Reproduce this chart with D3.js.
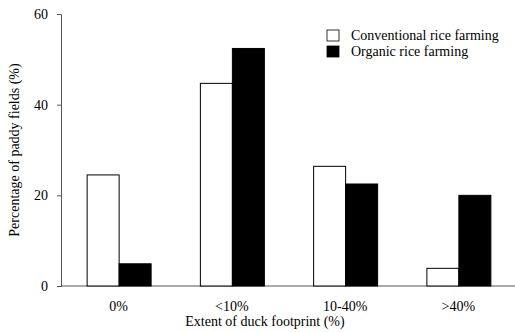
<!DOCTYPE html>
<html><head><meta charset="utf-8">
<script src="https://cdn.jsdelivr.net/npm/d3@7"></script>
<style>body{margin:0;background:#fff}svg{display:block}text{font-family:"Liberation Serif","Times New Roman",serif;fill:#000}</style>
</head><body>
<script>
const categories = ["0%", "<10%", "10-40%", ">40%"];
const seriesNames = ["Conventional rice farming", "Organic rice farming"];
const conventional = [24.5, 44.7, 26.4, 3.9];
const organic = [4.9, 52.4, 22.5, 20.0];
const yTicks = [0, 20, 40, 60];

const W = 515, H = 332;
const svg = d3.select("body").append("svg").attr("width", W).attr("height", H);
const x = d3.scaleBand().domain(categories).range([62, 515]).paddingInner(0.435).paddingOuter(0.2175);
const y = d3.scaleLinear().domain([0, 60]).range([286, 14]);
const sub = d3.scaleBand().domain(seriesNames).range([0, x.bandwidth()]);
const fills = ["#fff", "#000"];
const data = [conventional, organic];

const yAxis = svg.append("g").attr("transform", "translate(61,0)")
  .call(d3.axisLeft(y).tickValues(yTicks).tickSize(4).tickPadding(9));
yAxis.selectAll("text").style("font-size", "14px").style("font-family", "Liberation Serif");
yAxis.selectAll("line,path").attr("stroke", "#555");

const xAxis = svg.append("g").attr("transform", "translate(0,286)")
  .call(d3.axisBottom(x).tickSize(0).tickPadding(15));
xAxis.select(".domain").attr("d", "M61,0H515").attr("stroke", "#555");
xAxis.selectAll("text").style("font-size", "14px").style("font-family", "Liberation Serif");

seriesNames.forEach((s, i) => {
  svg.append("g").selectAll("rect").data(data[i]).join("rect")
    .attr("x", (d, j) => x(categories[j]) + sub(s) + 0.5)
    .attr("y", d => y(d))
    .attr("width", sub.bandwidth())
    .attr("height", d => y(0) - y(d))
    .attr("fill", fills[i]).attr("stroke", "#000").attr("stroke-width", 1);
});

const leg = svg.append("g");
seriesNames.forEach((s, i) => {
  leg.append("rect").attr("x", 327).attr("y", 30 + i * 16).attr("width", 12).attr("height", 11)
    .attr("fill", fills[i]).attr("stroke", "#000").attr("stroke-width", 0.8);
  leg.append("text").attr("x", 351).attr("y", 40 + i * 16).style("font-size", "14px").text(s);
});

svg.append("text").attr("x", 265).attr("y", 326).attr("text-anchor", "middle").style("font-size", "14px")
  .text("Extent of duck footprint (%)");
svg.append("text").attr("transform", "translate(19,150) rotate(-90)").attr("text-anchor", "middle")
  .style("font-size", "14px").text("Percentage of paddy fields (%)");
</script>
</body></html>
